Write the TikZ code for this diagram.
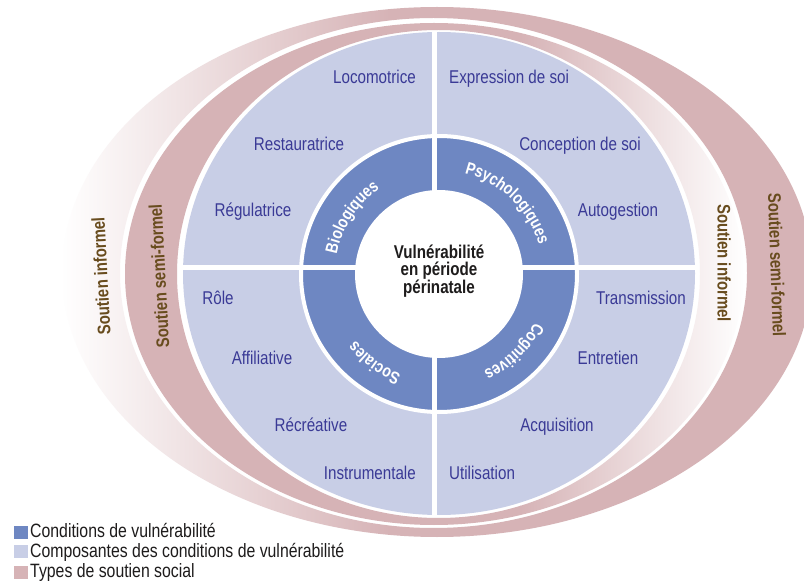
\documentclass[tikz,border=0pt]{standalone}
\usepackage{fontspec}
\setmainfont{Liberation Sans}[FakeStretch=0.82]
\usetikzlibrary{decorations.text,calc}
\definecolor{pinkc}{RGB}{214,179,182}
\definecolor{lblue}{RGB}{200,206,230}
\definecolor{dblue}{RGB}{110,135,194}
\definecolor{ink}{RGB}{58,58,150}
\definecolor{brownc}{RGB}{104,76,30}
\definecolor{darkt}{RGB}{30,28,28}
\tikzset{
  comp/.style={text=ink, font=\fontsize{18.5}{18.5}\selectfont, inner sep=0pt},
  sout/.style={text=brownc, font=\bfseries\fontsize{18.2}{18.2}\selectfont, inner sep=0pt},
  legsq/.style={minimum width=14pt, minimum height=13pt, inner sep=0pt},
  legtx/.style={font=\fontsize{19.3}{19.3}\selectfont, text=darkt, anchor=base west, inner sep=0pt},
  ringlab/.style={decorate, decoration={text along path, text align=center,
     text={|\color{white}\bfseries\fontsize{17.2}{17.2}\selectfont|#1}}}
}
\begin{document}
\begin{tikzpicture}[x=1pt,y=1pt]
\clip (0,0) rectangle (804,582);
\fill[white] (0,0) rectangle (804,582);
\coordinate (C) at (439,308);
% outer ring (informel left / semi-formel right)
\begin{scope}[even odd rule]
\clip (437,310) ellipse [x radius=375, y radius=265]
      (433.5,309) ellipse [x radius=313.5, y radius=255];
\shade[left color=white, right color=pinkc] (60,0) rectangle (390,582);
\fill[pinkc] (389.5,0) rectangle (820,582);
\end{scope}
% inner ring (semi-formel left / informel right)
\begin{scope}[even odd rule]
\clip (434,308) ellipse [x radius=309, y radius=251]
      (438.5,308) ellipse [x radius=261.5, y radius=244];
\fill[pinkc] (0,0) rectangle (520.5,582);
\shade[left color=pinkc, right color=white] (520,0) rectangle (745,582);
\end{scope}
% components disk
\fill[lblue] (439,308.5) ellipse [x radius=256, y radius=241.5];
% conditions ring
\fill[dblue, draw=white, line width=4pt] (C) circle [radius=138];
\fill[white] (C) circle [radius=84];
% dividing lines
\coordinate (vt) at (434,550);
\coordinate (vb) at (434,67);
\coordinate (hl) at (183,314);
\coordinate (hr) at (695,314);
\draw[white, line width=5pt] (vt) -- (vb);
\draw[white, line width=5pt] (hl) -- (hr);
% ring labels
\path[ringlab=Biologiques] ($(C)+(187:104)$) arc[start angle=187, end angle=107, radius=104];
\path[ringlab=Psychologiques] ($(C)+(91:104)$) arc[start angle=91, end angle=1, radius=104];
\path[ringlab=Cognitives] ($(C)+(-6:107)$) arc[start angle=-6, end angle=-86, radius=107];
\path[ringlab=Sociales] ($(C)+(-86:107)$) arc[start angle=-86, end angle=-166, radius=107];
% centre
\node[font=\bfseries\fontsize{18.5}{17}\selectfont, text=darkt, align=center, inner sep=0pt] (ctr) at (439,311) {Vulnérabilité\\en période\\périnatale};
% components
\node[comp, anchor=base east] (loco) at (416,498) {Locomotrice};
\node[comp, anchor=base west] (expr) at (449,498) {Expression de soi};
\node[comp, anchor=base] (rest) at (299,431) {Restauratrice};
\node[comp, anchor=base] (conc) at (580,431) {Conception de soi};
\node[comp, anchor=base] (regu) at (253,365) {Régulatrice};
\node[comp, anchor=base] (auto) at (618,365) {Autogestion};
\node[comp, anchor=base] (role) at (218,277) {Rôle};
\node[comp, anchor=base] (trans) at (641,277) {Transmission};
\node[comp, anchor=base] (affi) at (262,217) {Affiliative};
\node[comp, anchor=base] (entr) at (608,217) {Entretien};
\node[comp, anchor=base] (recr) at (311,151) {Récréative};
\node[comp, anchor=base] (acqu) at (557,151) {Acquisition};
\node[comp, anchor=base east] (inst) at (416,103) {Instrumentale};
\node[comp, anchor=base west] (util) at (449,103) {Utilisation};
% support types
\node[sout, rotate=93] (infL) at (101,306) {Soutien informel};
\node[sout, rotate=93] (semiL) at (159,306) {Soutien semi-formel};
\node[sout, rotate=-90] (infR) at (724,319) {Soutien informel};
\node[sout, rotate=-88] (semiR) at (777,317) {Soutien semi-formel};
% legend
\node[legsq, fill=dblue] (sq1) at (21,49.5) {};
\node[legtx] (lt1) at (30,45) {Conditions de vulnérabilité};
\node[legsq, fill=lblue] (sq2) at (21,30.5) {};
\node[legtx] (lt2) at (30,25) {Composantes des conditions de vulnérabilité};
\node[legsq, fill=pinkc] (sq3) at (21,10) {};
\node[legtx] (lt3) at (30,5) {Types de soutien social};
\end{tikzpicture}
\end{document}
